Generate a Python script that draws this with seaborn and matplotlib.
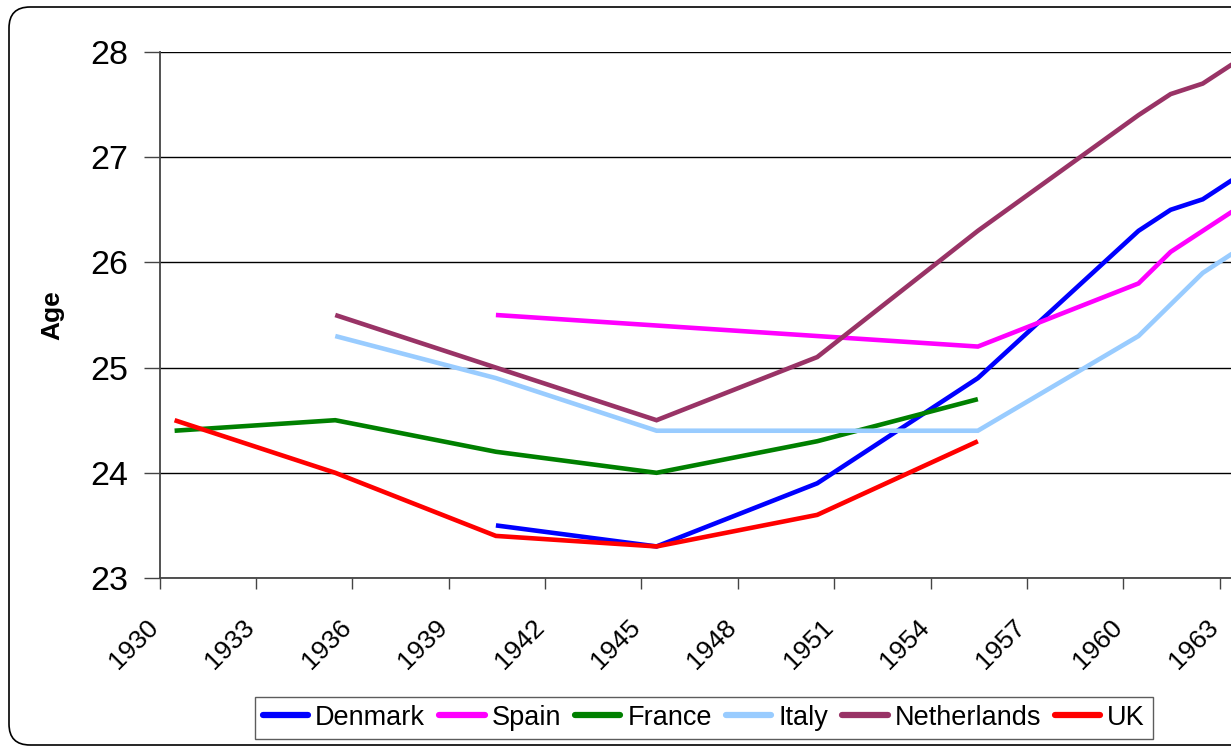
import numpy as np
import pandas as pd
import seaborn as sns
import matplotlib.pyplot as plt
from matplotlib.patches import FancyBboxPatch
from matplotlib.transforms import IdentityTransform, ScaledTranslation

# Mean age data by country (NaN = no observation)
years = [1930, 1935, 1940, 1945, 1950, 1955, 1960, 1961, 1962, 1963]
denmark = [np.nan, np.nan, 23.5, 23.3, 23.9, 24.9, 26.3, 26.5, 26.6, 26.8]
spain = [np.nan, np.nan, 25.5, 25.4, 25.3, 25.2, 25.8, 26.1, 26.3, 26.5]
france = [24.4, 24.5, 24.2, 24.0, 24.3, 24.7, np.nan, np.nan, np.nan, np.nan]
italy = [np.nan, 25.3, 24.9, 24.4, 24.4, 24.4, 25.3, 25.6, 25.9, 26.1]
netherlands = [np.nan, 25.5, 25.0, 24.5, 25.1, 26.3, 27.4, 27.6, 27.7, 27.9]
uk = [24.5, 24.0, 23.4, 23.3, 23.6, 24.3, np.nan, np.nan, np.nan, np.nan]

countries = ["Denmark", "Spain", "France", "Italy", "Netherlands", "UK"]
colors = ["#0000FF", "#FF00FF", "#008000", "#99CCFF", "#993366", "#FF0000"]
series = [denmark, spain, france, italy, netherlands, uk]

yticks = [23, 24, 25, 26, 27, 28]
xticks = list(range(1930, 1964, 3))

rows = []
for name, vals in zip(countries, series):
    for yr, v in zip(years, vals):
        if not np.isnan(v):
            # observations are plotted at mid-year on the date axis
            rows.append({"Year": yr + 0.47, "Age": v, "Country": name})
df = pd.DataFrame(rows)

sns.set_theme(style="white")
plt.rcParams["font.family"] = ["Liberation Sans", "DejaVu Sans"]
plt.rcParams["text.color"] = "black"

fig = plt.figure(figsize=(12.31, 7.47), dpi=100)
W, H = 1231, 747
left_px, right_px, top_px, bottom_px = 159.5, 159.5 + 36 * 32.13, 52, 578
ax = fig.add_axes([left_px / W, 1 - bottom_px / H,
                   (right_px - left_px) / W, (bottom_px - top_px) / H])

sns.lineplot(data=df, x="Year", y="Age", hue="Country", hue_order=countries,
             palette=colors, estimator=None, sort=True, linewidth=3.3,
             legend=False, ax=ax)
for ln in ax.lines:
    ln.set_solid_capstyle("butt")
    ln.set_solid_joinstyle("miter")

ax.set_xlim(1930, 1966)
ax.set_ylim(23, 28)
ax.set_yticks(yticks)
ax.set_xticks(xticks)
ax.set_xticklabels([str(x) for x in xticks], rotation=45, ha="right",
                   va="baseline", rotation_mode="anchor")
shift = ScaledTranslation(2.5 / 100, 0, fig.dpi_scale_trans)
for lbl in ax.get_xticklabels():
    lbl.set_transform(lbl.get_transform() + shift)

ax.yaxis.grid(True, color="black", linewidth=1.0)
ax.set_axisbelow(True)
for s in ["top", "right"]:
    ax.spines[s].set_visible(False)
for s in ["left", "bottom"]:
    ax.spines[s].set_color("#444444")
    ax.spines[s].set_linewidth(1.3)
ax.tick_params(axis="y", which="both", left=True, length=11.5, width=1.0,
               color="#444444", labelcolor="black", labelsize=24.5, pad=11)
ax.tick_params(axis="x", which="both", bottom=True, length=8, width=1.0,
               color="#444444", labelcolor="black", labelsize=19, pad=28.5)
ax.set_xlabel("")
ax.set_ylabel("Age", fontsize=19, fontweight="bold", color="black")
ax.yaxis.set_label_coords(-0.082, 0.5)

# Legend along the bottom
handles = [plt.Line2D([], [], color=c, linewidth=4.5, solid_capstyle="round")
           for c in colors]
leg = fig.legend(handles, countries, loc="center",
                 bbox_to_anchor=(704 / W, 1 - 717.7 / H), ncol=6,
                 frameon=True, fontsize=19.5, handlelength=1.67,
                 handletextpad=0.25, columnspacing=0.53, borderpad=0.3,
                 borderaxespad=0, fancybox=False)
leg.get_frame().set_edgecolor("#333333")
leg.get_frame().set_linewidth(1.0)

# Rounded chart-area border
border = FancyBboxPatch((9, 2), 1320, 738,
                        boxstyle="round,pad=0,rounding_size=21",
                        transform=IdentityTransform(), facecolor="none",
                        edgecolor="black", linewidth=1.2)
fig.patches.append(border)

fig.savefig("out.png", dpi=100)
